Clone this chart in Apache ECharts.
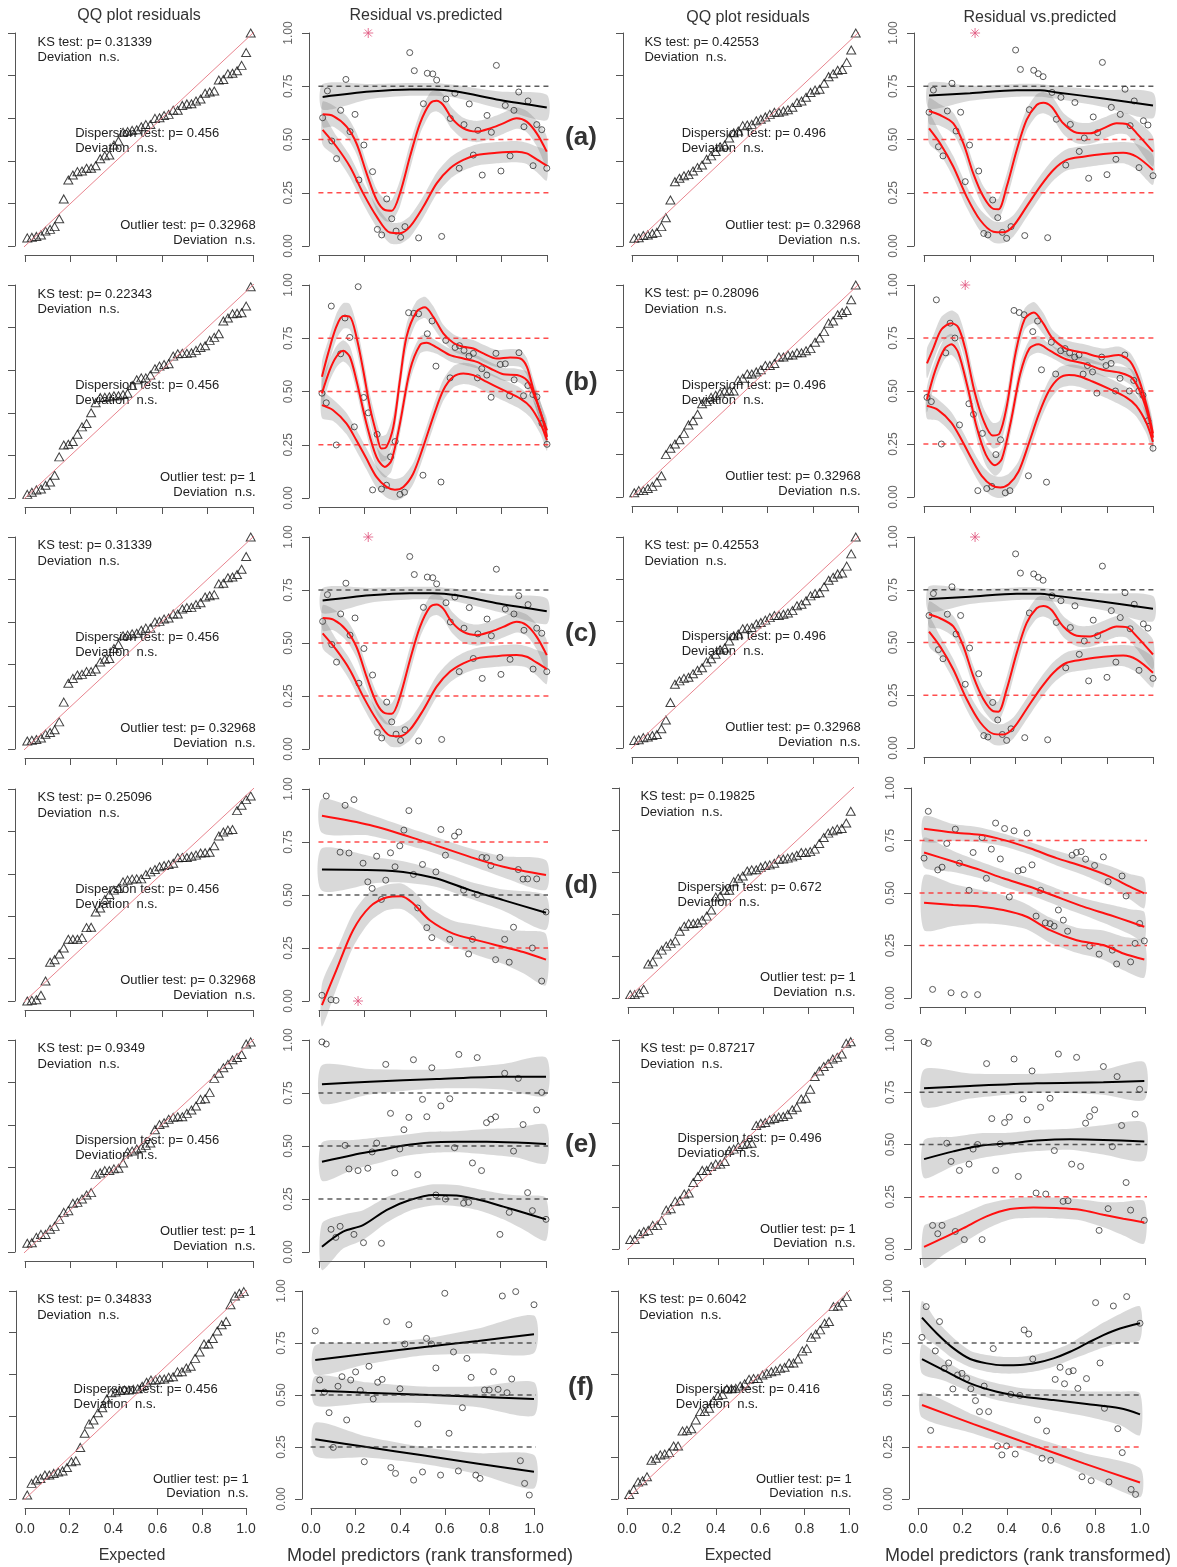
<!DOCTYPE html>
<html>
<head>
<meta charset="utf-8">
<script src="https://cdn.jsdelivr.net/npm/echarts@6/dist/echarts.min.js"></script>
<style>
html, body { margin: 0; padding: 0; background: #fff; }
#chart { width: 1177px; height: 1567px; }
</style>
</head>
<body>
<div id="chart"></div>
<script>
// ---- data: scaled residuals [x = model predictor (rank transformed), residual] ----
var resA1 = [[0.016,0.602],[0.037,0.728],[0.056,0.493],[0.077,0.41],[0.095,0.637],[0.118,0.782],[0.136,0.537],[0.158,0.618],[0.175,0.31],[0.197,0.474],[0.235,0.349],[0.297,0.221],[0.256,0.078],[0.275,0.052],[0.319,0.128],[0.338,0.07],[0.358,0.041],[0.377,0.091],[0.398,0.908],[0.418,0.823],[0.437,0.038],[0.458,0.668],[0.475,0.811],[0.499,0.808],[0.516,0.779],[0.538,0.045],[0.557,0.69],[0.576,0.599],[0.596,0.717],[0.615,0.365],[0.636,0.57],[0.659,0.667],[0.677,0.427],[0.697,0.543],[0.716,0.333],[0.737,0.613],[0.756,0.534],[0.778,0.848],[0.798,0.352],[0.817,0.66],[0.838,0.423],[0.855,0.637],[0.876,0.723],[0.899,0.56],[0.917,0.681],[0.939,0.377],[0.955,0.57],[0.977,0.546],[0.999,0.365]];
var outA1 = [[0.216,1]];
var resA2 = [[0.022,0.628],[0.041,0.732],[0.063,0.466],[0.083,0.423],[0.102,0.634],[0.122,0.764],[0.14,0.54],[0.16,0.628],[0.18,0.302],[0.199,0.474],[0.239,0.352],[0.261,0.059],[0.279,0.052],[0.3,0.216],[0.322,0.133],[0.342,0.064],[0.361,0.036],[0.38,0.091],[0.4,0.92],[0.421,0.829],[0.44,0.049],[0.46,0.64],[0.479,0.825],[0.499,0.809],[0.52,0.795],[0.54,0.039],[0.559,0.721],[0.578,0.595],[0.598,0.698],[0.619,0.38],[0.639,0.571],[0.659,0.674],[0.678,0.444],[0.7,0.507],[0.719,0.318],[0.739,0.606],[0.758,0.532],[0.779,0.862],[0.799,0.335],[0.818,0.651],[0.838,0.407],[0.857,0.618],[0.878,0.736],[0.9,0.565],[0.918,0.681],[0.939,0.368],[0.958,0.588],[0.978,0.568],[1.0,0.33]];
var outA2 = [[0.223,1]];

var resB1 = [[0.013,0.492],[0.032,0.447],[0.054,0.901],[0.076,0.249],[0.095,0.677],[0.114,0.845],[0.135,0.754],[0.155,0.334],[0.172,0.992],[0.196,0.472],[0.216,0.4],[0.235,0.038],[0.255,0.299],[0.274,0.042],[0.296,0.06],[0.314,0.193],[0.334,0.265],[0.355,0.017],[0.375,0.027],[0.393,0.87],[0.416,0.867],[0.437,0.865],[0.456,0.107],[0.475,0.771],[0.496,0.831],[0.513,0.619],[0.535,0.075],[0.556,0.74],[0.575,0.564],[0.597,0.707],[0.616,0.715],[0.636,0.693],[0.658,0.666],[0.677,0.679],[0.695,0.564],[0.714,0.607],[0.736,0.577],[0.755,0.473],[0.776,0.679],[0.795,0.627],[0.817,0.63],[0.836,0.48],[0.856,0.555],[0.877,0.682],[0.897,0.48],[0.916,0.528],[0.938,0.486],[0.956,0.475],[0.978,0.35],[1.0,0.252]];
var outB1 = [];
var resB2 = [[0.013,0.47],[0.032,0.45],[0.054,0.93],[0.076,0.25],[0.095,0.68],[0.114,0.82],[0.135,0.75],[0.155,0.34],[0.196,0.44],[0.216,0.39],[0.235,0.03],[0.255,0.3],[0.274,0.04],[0.296,0.05],[0.314,0.2],[0.334,0.27],[0.355,0.02],[0.375,0.03],[0.393,0.88],[0.416,0.87],[0.437,0.86],[0.456,0.1],[0.475,0.78],[0.496,0.83],[0.513,0.6],[0.535,0.07],[0.556,0.73],[0.575,0.58],[0.597,0.69],[0.616,0.7],[0.636,0.68],[0.658,0.66],[0.677,0.67],[0.695,0.58],[0.714,0.62],[0.736,0.59],[0.755,0.49],[0.776,0.66],[0.795,0.62],[0.817,0.63],[0.836,0.5],[0.856,0.56],[0.877,0.67],[0.897,0.5],[0.916,0.55],[0.938,0.5],[0.956,0.48],[0.978,0.36],[1.0,0.23]];
var outB2 = [[0.18,1]];

var resD1 = [[0.013,0.027],[0.032,0.967],[0.053,0.006],[0.075,0.003],[0.093,0.702],[0.115,0.923],[0.132,0.698],[0.154,0.95],[0.194,0.65],[0.215,0.562],[0.234,0.531],[0.254,0.683],[0.275,0.479],[0.294,0.57],[0.315,0.699],[0.335,0.633],[0.356,0.732],[0.374,0.806],[0.396,0.898],[0.416,0.597],[0.435,0.439],[0.456,0.644],[0.475,0.346],[0.497,0.299],[0.515,0.609],[0.537,0.809],[0.557,0.688],[0.576,0.291],[0.597,0.778],[0.616,0.797],[0.637,0.523],[0.659,0.222],[0.676,0.291],[0.697,0.502],[0.718,0.677],[0.738,0.676],[0.757,0.639],[0.778,0.195],[0.797,0.677],[0.818,0.291],[0.838,0.183],[0.857,0.348],[0.878,0.62],[0.899,0.575],[0.919,0.576],[0.94,0.25],[0.959,0.576],[0.981,0.094],[1.0,0.42]];
var outD1 = [[0.172,0]];
var resD2 = [[0.018,0.666],[0.037,0.889],[0.056,0.041],[0.079,0.61],[0.098,0.623],[0.119,0.736],[0.138,0.025],[0.157,0.804],[0.175,0.642],[0.197,0.016],[0.218,0.513],[0.236,0.693],[0.256,0.016],[0.276,0.764],[0.295,0.57],[0.317,0.709],[0.336,0.833],[0.357,0.662],[0.376,0.807],[0.397,0.481],[0.418,0.796],[0.436,0.605],[0.458,0.611],[0.476,0.785],[0.498,0.634],[0.516,0.39],[0.536,0.513],[0.557,0.358],[0.578,0.354],[0.596,0.342],[0.615,0.419],[0.637,0.371],[0.656,0.318],[0.676,0.68],[0.695,0.693],[0.716,0.697],[0.736,0.661],[0.754,0.247],[0.776,0.631],[0.796,0.209],[0.815,0.672],[0.836,0.554],[0.855,0.228],[0.874,0.162],[0.898,0.581],[0.916,0.486],[0.936,0.172],[0.956,0.26],[0.976,0.355],[0.997,0.272]];
var outD2 = [];

var resE1 = [[0.013,0.991],[0.032,0.981],[0.053,0.107],[0.074,0.069],[0.093,0.121],[0.115,0.503],[0.132,0.392],[0.154,0.083],[0.172,0.384],[0.196,0.044],[0.215,0.395],[0.234,0.472],[0.254,0.514],[0.275,0.041],[0.294,0.885],[0.315,0.654],[0.334,0.373],[0.356,0.486],[0.374,0.577],[0.396,0.635],[0.416,0.907],[0.435,0.365],[0.456,0.72],[0.475,0.638],[0.497,0.869],[0.515,0.269],[0.537,0.689],[0.557,0.25],[0.576,0.723],[0.597,0.492],[0.616,0.932],[0.637,0.23],[0.659,0.234],[0.676,0.42],[0.697,0.917],[0.716,0.384],[0.738,0.61],[0.757,0.626],[0.778,0.638],[0.797,0.083],[0.818,0.843],[0.838,0.187],[0.857,0.476],[0.878,0.819],[0.899,0.601],[0.919,0.28],[0.94,0.195],[0.959,0.67],[0.981,0.753],[1.0,0.154]];
var outE1 = [];
var resE2 = [[0.018,0.992],[0.037,0.984],[0.056,0.113],[0.079,0.073],[0.098,0.113],[0.119,0.506],[0.138,0.419],[0.157,0.084],[0.175,0.376],[0.197,0.045],[0.218,0.406],[0.236,0.478],[0.256,0.5],[0.276,0.045],[0.296,0.887],[0.319,0.624],[0.336,0.376],[0.357,0.503],[0.376,0.605],[0.397,0.631],[0.418,0.909],[0.437,0.347],[0.458,0.718],[0.476,0.618],[0.498,0.852],[0.516,0.268],[0.536,0.678],[0.559,0.263],[0.578,0.721],[0.597,0.471],[0.615,0.933],[0.636,0.228],[0.658,0.231],[0.674,0.406],[0.696,0.917],[0.714,0.395],[0.736,0.602],[0.754,0.634],[0.776,0.666],[0.796,0.089],[0.815,0.873],[0.836,0.193],[0.855,0.49],[0.876,0.825],[0.896,0.591],[0.916,0.318],[0.936,0.186],[0.956,0.645],[0.976,0.764],[0.997,0.137]];
var outE2 = [];

var resF1 = [[0.019,0.808],[0.039,0.572],[0.06,0.514],[0.081,0.415],[0.1,0.248],[0.121,0.542],[0.139,0.588],[0.16,0.38],[0.178,0.572],[0.2,0.611],[0.221,0.522],[0.239,0.179],[0.26,0.638],[0.279,0.481],[0.299,0.561],[0.319,0.575],[0.339,0.853],[0.358,0.151],[0.379,0.123],[0.399,0.53],[0.421,0.745],[0.439,0.838],[0.46,0.091],[0.479,0.361],[0.5,0.13],[0.518,0.772],[0.54,0.745],[0.56,0.63],[0.581,0.115],[0.6,0.989],[0.619,0.316],[0.639,0.707],[0.661,0.135],[0.679,0.439],[0.699,0.676],[0.718,0.585],[0.739,0.115],[0.758,0.099],[0.778,0.524],[0.799,0.524],[0.818,0.612],[0.839,0.527],[0.858,0.976],[0.879,0.511],[0.9,0.577],[0.918,0.997],[0.939,0.184],[0.958,0.075],[0.979,0.019],[1.0,0.934]];
var outF1 = [];
var resF2 = [[0.018,0.777],[0.037,0.925],[0.057,0.33],[0.078,0.712],[0.097,0.853],[0.118,0.628],[0.138,0.654],[0.157,0.529],[0.178,0.596],[0.198,0.604],[0.219,0.579],[0.238,0.53],[0.259,0.473],[0.277,0.42],[0.298,0.543],[0.318,0.42],[0.339,0.723],[0.358,0.255],[0.378,0.212],[0.399,0.255],[0.418,0.503],[0.438,0.216],[0.459,0.498],[0.478,0.813],[0.499,0.793],[0.517,0.673],[0.538,0.38],[0.559,0.196],[0.579,0.327],[0.598,0.186],[0.618,0.575],[0.64,0.633],[0.66,0.554],[0.679,0.612],[0.699,0.617],[0.72,0.532],[0.739,0.107],[0.759,0.579],[0.78,0.088],[0.8,0.944],[0.82,0.654],[0.84,0.436],[0.86,0.082],[0.88,0.928],[0.9,0.338],[0.92,0.223],[0.94,0.973],[0.96,0.046],[0.98,0.022],[1.0,0.845]];
var outF2 = [];

// ---- quantile regression curves [x, fitted, band half width] ----
var qA1_75 = [[0.016,0.70,0.06],[0.224,0.725,0.035],[0.399,0.735,0.03],[0.501,0.735,0.03],[0.604,0.725,0.03],[0.794,0.685,0.04],[0.999,0.65,0.06]];
var qA1_50 = [[0.016,0.618,0.06],[0.063,0.61,0.05],[0.121,0.56,0.05],[0.165,0.48,0.05],[0.209,0.34,0.05],[0.253,0.216,0.05],[0.289,0.169,0.05],[0.319,0.166,0.05],[0.355,0.247,0.06],[0.399,0.42,0.06],[0.443,0.576,0.05],[0.487,0.67,0.05],[0.516,0.682,0.05],[0.545,0.662,0.05],[0.582,0.6,0.05],[0.633,0.552,0.05],[0.692,0.537,0.05],[0.75,0.552,0.05],[0.808,0.576,0.05],[0.867,0.6,0.05],[0.911,0.584,0.05],[0.955,0.529,0.06],[0.999,0.443,0.07]];
var qA1_25 = [[0.016,0.545,0.07],[0.077,0.466,0.05],[0.136,0.372,0.05],[0.194,0.247,0.05],[0.253,0.138,0.05],[0.311,0.063,0.05],[0.355,0.06,0.05],[0.399,0.091,0.05],[0.458,0.185,0.05],[0.516,0.294,0.05],[0.575,0.365,0.05],[0.633,0.404,0.05],[0.692,0.427,0.05],[0.779,0.438,0.05],[0.867,0.443,0.05],[0.911,0.435,0.05],[0.955,0.407,0.06],[0.999,0.377,0.07]];
var qA2_75 = [[0.022,0.706,0.06],[0.201,0.717,0.035],[0.405,0.731,0.03],[0.507,0.731,0.03],[0.579,0.721,0.03],[0.783,0.693,0.04],[1.0,0.66,0.06]];
var qA2_50 = [[0.022,0.634,0.06],[0.07,0.615,0.05],[0.128,0.576,0.05],[0.172,0.482,0.05],[0.215,0.341,0.05],[0.259,0.232,0.05],[0.303,0.174,0.05],[0.325,0.172,0.05],[0.361,0.278,0.06],[0.405,0.451,0.06],[0.448,0.592,0.05],[0.492,0.662,0.05],[0.521,0.673,0.05],[0.557,0.654,0.05],[0.608,0.576,0.05],[0.667,0.532,0.05],[0.725,0.529,0.05],[0.783,0.552,0.05],[0.841,0.576,0.05],[0.885,0.573,0.05],[0.929,0.529,0.06],[1.0,0.443,0.07]];
var qA2_25 = [[0.022,0.552,0.07],[0.07,0.482,0.05],[0.128,0.372,0.05],[0.186,0.232,0.05],[0.245,0.122,0.05],[0.303,0.067,0.05],[0.346,0.064,0.05],[0.39,0.094,0.05],[0.448,0.185,0.05],[0.507,0.279,0.05],[0.565,0.357,0.05],[0.623,0.404,0.05],[0.696,0.419,0.05],[0.783,0.432,0.05],[0.87,0.438,0.05],[0.929,0.419,0.06],[1.0,0.357,0.07]];

var qB1_75 = [[0.013,0.569,0.07],[0.04,0.679,0.06],[0.076,0.804,0.06],[0.106,0.854,0.06],[0.135,0.851,0.06],[0.164,0.757,0.06],[0.194,0.6,0.06],[0.223,0.428,0.06],[0.252,0.303,0.06],[0.274,0.232,0.06],[0.296,0.24,0.06],[0.326,0.334,0.06],[0.355,0.553,0.06],[0.384,0.757,0.06],[0.428,0.875,0.05],[0.465,0.895,0.05],[0.501,0.851,0.05],[0.545,0.773,0.04],[0.589,0.729,0.04],[0.633,0.71,0.04],[0.677,0.702,0.04],[0.721,0.679,0.04],[0.78,0.655,0.04],[0.839,0.66,0.04],[0.883,0.655,0.04],[0.912,0.616,0.04],[0.941,0.506,0.05],[0.978,0.381,0.05],[1.0,0.318,0.05]];
var qB1_50 = [[0.013,0.491,0.06],[0.047,0.6,0.05],[0.076,0.663,0.05],[0.106,0.691,0.05],[0.135,0.663,0.05],[0.164,0.553,0.05],[0.208,0.35,0.05],[0.252,0.193,0.05],[0.289,0.146,0.05],[0.318,0.177,0.05],[0.355,0.35,0.05],[0.399,0.6,0.05],[0.443,0.718,0.04],[0.472,0.729,0.04],[0.516,0.707,0.03],[0.575,0.671,0.03],[0.633,0.655,0.03],[0.692,0.639,0.03],[0.751,0.608,0.03],[0.809,0.581,0.03],[0.868,0.577,0.03],[0.912,0.553,0.04],[0.941,0.491,0.04],[0.978,0.381,0.05],[1.0,0.287,0.05]];
var qB1_25 = [[0.013,0.436,0.06],[0.062,0.412,0.05],[0.12,0.35,0.05],[0.164,0.271,0.05],[0.208,0.185,0.05],[0.252,0.099,0.05],[0.296,0.052,0.05],[0.333,0.039,0.05],[0.37,0.052,0.05],[0.413,0.114,0.05],[0.457,0.24,0.05],[0.501,0.381,0.05],[0.545,0.506,0.05],[0.589,0.569,0.05],[0.633,0.585,0.05],[0.677,0.577,0.05],[0.736,0.545,0.05],[0.809,0.506,0.05],[0.883,0.467,0.05],[0.927,0.428,0.05],[0.971,0.35,0.05],[1.0,0.271,0.05]];
var qB2_75 = [[0.013,0.63,0.07],[0.04,0.7,0.06],[0.076,0.79,0.06],[0.12,0.82,0.06],[0.15,0.8,0.06],[0.18,0.7,0.06],[0.22,0.5,0.06],[0.26,0.36,0.06],[0.3,0.29,0.06],[0.33,0.3,0.06],[0.36,0.42,0.06],[0.4,0.68,0.06],[0.44,0.84,0.05],[0.48,0.87,0.05],[0.52,0.82,0.05],[0.56,0.75,0.04],[0.62,0.7,0.04],[0.7,0.68,0.04],[0.78,0.66,0.04],[0.85,0.67,0.04],[0.9,0.64,0.04],[0.94,0.55,0.05],[0.975,0.42,0.05],[1.0,0.3,0.05]];
var qB2_50 = [[0.013,0.46,0.06],[0.05,0.6,0.05],[0.09,0.7,0.05],[0.12,0.72,0.05],[0.15,0.68,0.05],[0.19,0.52,0.05],[0.23,0.33,0.05],[0.27,0.2,0.05],[0.31,0.15,0.05],[0.34,0.18,0.05],[0.38,0.36,0.05],[0.42,0.58,0.05],[0.46,0.7,0.04],[0.5,0.72,0.04],[0.55,0.69,0.03],[0.62,0.65,0.03],[0.7,0.63,0.03],[0.78,0.6,0.03],[0.86,0.585,0.03],[0.91,0.56,0.04],[0.95,0.48,0.04],[0.98,0.38,0.05],[1.0,0.28,0.05]];
var qB2_25 = [[0.013,0.43,0.06],[0.062,0.41,0.05],[0.12,0.35,0.05],[0.164,0.27,0.05],[0.208,0.18,0.05],[0.252,0.1,0.05],[0.296,0.055,0.05],[0.333,0.045,0.05],[0.37,0.06,0.05],[0.413,0.12,0.05],[0.457,0.25,0.05],[0.501,0.39,0.05],[0.545,0.5,0.05],[0.589,0.56,0.05],[0.633,0.575,0.05],[0.677,0.57,0.05],[0.736,0.545,0.05],[0.809,0.51,0.05],[0.883,0.47,0.05],[0.927,0.43,0.05],[0.971,0.35,0.05],[1.0,0.26,0.05]];

var qD1_75 = [[0.013,0.874,0.08],[0.224,0.83,0.05],[0.444,0.759,0.04],[0.665,0.68,0.04],[0.812,0.633,0.05],[1.0,0.594,0.07]];
var qD1_50 = [[0.013,0.62,0.1],[0.253,0.617,0.06],[0.371,0.609,0.05],[0.518,0.578,0.04],[0.665,0.523,0.04],[0.812,0.476,0.05],[1.0,0.416,0.08]];
var qD1_25 = [[0.013,-0.02,0.1],[0.076,0.145,0.09],[0.15,0.334,0.08],[0.224,0.444,0.07],[0.297,0.488,0.06],[0.363,0.494,0.06],[0.415,0.46,0.06],[0.488,0.381,0.06],[0.591,0.318,0.06],[0.694,0.287,0.07],[0.812,0.255,0.08],[0.9,0.231,0.1],[1.0,0.195,0.12]];
var qD2_75 = [[0.018,0.806,0.06],[0.148,0.788,0.04],[0.267,0.777,0.035],[0.37,0.753,0.03],[0.489,0.713,0.03],[0.607,0.666,0.035],[0.726,0.626,0.04],[0.844,0.578,0.05],[0.933,0.53,0.06],[0.997,0.498,0.07]];
var qD2_50 = [[0.018,0.693,0.07],[0.148,0.65,0.05],[0.267,0.61,0.04],[0.37,0.57,0.04],[0.489,0.53,0.04],[0.607,0.482,0.04],[0.726,0.435,0.04],[0.844,0.395,0.05],[0.933,0.363,0.06],[0.997,0.339,0.07]];
var qD2_25 = [[0.018,0.454,0.13],[0.148,0.443,0.1],[0.267,0.435,0.08],[0.37,0.419,0.07],[0.474,0.387,0.06],[0.578,0.323,0.06],[0.696,0.275,0.06],[0.815,0.252,0.07],[0.904,0.212,0.08],[0.997,0.183,0.085]];

var qE1_75 = [[0.013,0.791,0.09],[0.224,0.803,0.06],[0.518,0.816,0.045],[0.812,0.827,0.06],[1.0,0.827,0.09]];
var qE1_50 = [[0.013,0.426,0.09],[0.15,0.458,0.07],[0.268,0.481,0.06],[0.371,0.502,0.05],[0.488,0.517,0.05],[0.606,0.52,0.05],[0.738,0.52,0.06],[0.871,0.516,0.07],[1.0,0.509,0.09]];
var qE1_25 = [[0.013,0.025,0.11],[0.106,0.096,0.08],[0.194,0.127,0.07],[0.297,0.198,0.06],[0.4,0.245,0.05],[0.503,0.269,0.05],[0.606,0.266,0.05],[0.709,0.245,0.05],[0.812,0.214,0.06],[0.9,0.186,0.08],[1.0,0.154,0.1]];
var qE2_75 = [[0.018,0.769,0.09],[0.222,0.78,0.06],[0.519,0.793,0.045],[0.815,0.798,0.06],[0.997,0.804,0.09]];
var qE2_50 = [[0.018,0.43,0.09],[0.148,0.467,0.07],[0.267,0.494,0.06],[0.4,0.506,0.05],[0.519,0.519,0.05],[0.667,0.525,0.05],[0.815,0.522,0.07],[0.997,0.514,0.09]];
var qE2_25 = [[0.018,0.01,0.1],[0.104,0.053,0.08],[0.193,0.1,0.07],[0.296,0.156,0.06],[0.4,0.191,0.05],[0.504,0.199,0.05],[0.607,0.196,0.05],[0.711,0.188,0.05],[0.815,0.164,0.06],[0.904,0.145,0.08],[0.997,0.127,0.1]];

var qF1_75 = [[0.019,0.668,0.07],[0.25,0.698,0.05],[0.5,0.73,0.04],[0.75,0.76,0.06],[1.0,0.792,0.09]];
var qF1_50 = [[0.019,0.521,0.07],[0.25,0.511,0.05],[0.5,0.501,0.04],[0.75,0.491,0.05],[1.0,0.481,0.08]];
var qF1_25 = [[0.019,0.287,0.08],[0.25,0.25,0.05],[0.5,0.21,0.04],[0.75,0.17,0.05],[1.0,0.131,0.08]];
var qF2_75 = [[0.018,0.872,0.08],[0.085,0.796,0.06],[0.16,0.724,0.05],[0.235,0.673,0.04],[0.31,0.652,0.04],[0.385,0.643,0.04],[0.46,0.644,0.04],[0.535,0.655,0.04],[0.61,0.676,0.04],[0.685,0.708,0.04],[0.76,0.748,0.05],[0.835,0.788,0.06],[0.91,0.82,0.07],[1.0,0.845,0.08]];
var qF2_50 = [[0.018,0.673,0.07],[0.115,0.62,0.05],[0.235,0.556,0.04],[0.355,0.516,0.04],[0.475,0.492,0.04],[0.61,0.476,0.05],[0.76,0.457,0.06],[0.91,0.436,0.08],[1.0,0.407,0.1]];
var qF2_25 = [[0.018,0.452,0.06],[0.25,0.36,0.045],[0.5,0.265,0.04],[0.75,0.17,0.05],[1.0,0.079,0.07]];

// ---- test statistics printed in the QQ panels ----
var ksP1 = ['0.31339', '0.22343', '0.31339', '0.25096', '0.9349', '0.34833'];
var ksP2 = ['0.42553', '0.28096', '0.42553', '0.19825', '0.87217', '0.6042'];
var dispP1 = ['0.456', '0.456', '0.456', '0.456', '0.456', '0.456'];
var dispP2 = ['0.496', '0.496', '0.496', '0.672', '0.496', '0.416'];
var outP1 = ['0.32968', '1', '0.32968', '0.32968', '1', '1'];
var outP2 = ['0.32968', '0.32968', '0.32968', '1', '1', '1'];
var rowLabels = ['(a)', '(b)', '(c)', '(d)', '(e)', '(f)'];
var quantLevels = [0.25, 0.5, 0.75];
var qqRef = [-0.042, 1.042];

// ---- layout (pixels) ----
var rowTopL = [33, 285, 537, 789, 1040, 1291];
var rowTopR = [33, 285, 537, 788, 1040, 1291];
var rowHL = [213, 213, 212, 212, 212, 208];
var rowHR = [213, 212, 211, 210, 209, 208];
var colX = [
  [25, 228, 319, 228, 632, 226, 924, 229],
  [25, 228, 319, 228, 632, 226, 924, 229],
  [25, 228, 319, 228, 632, 226, 924, 229],
  [25, 228, 319, 227, 628, 225, 920, 225],
  [25, 228, 319, 227, 628, 225, 920, 225],
  [25, 221, 311, 223, 627, 222, 918, 222]
];
var labelY = [138, 383, 634, 886, 1145, 1388];

var RED = '#ff1010', BLACK = '#000000';
var DASH_RED = '#ff2020', DASH_BLACK = '#333333';
var BAND = 'rgba(110,110,110,0.26)';
var FONT = '"Liberation Sans", Arial, sans-serif';

var grids = [], xAxes = [], yAxes = [], series = [], graphics = [];

function cell(r, c) {
  var left = c < 2;
  return { l: colX[r][c * 2], w: colX[r][c * 2 + 1],
           t: left ? rowTopL[r] : rowTopR[r], h: left ? rowHL[r] : rowHR[r] };
}

function text(str, x, y, font, align, color) {
  graphics.push({ type: 'text', silent: true,
    style: { text: str, x: x, y: y, font: font, fill: color || '#222',
             textAlign: align, textVerticalAlign: 'middle', align: align, verticalAlign: 'middle' } });
}

function baseAxes(g, r, yInterval, yLabels) {
  var gi = grids.length;
  grids.push({ left: g.l, top: g.t, width: g.w, height: g.h, containLabel: false, outerBoundsMode: 'none' });
  var xi = xAxes.length;
  xAxes.push({ gridIndex: gi, type: 'value', min: 0, max: 1, interval: 0.2, position: 'bottom',
    offset: Math.round(g.h * 0.042),
    axisLine: { show: true, onZero: false, lineStyle: { color: '#555', width: 1 } },
    axisTick: { show: true, length: 7, lineStyle: { color: '#555' } },
    axisLabel: { show: r === 5, margin: 14, fontSize: 14, color: '#333', fontFamily: FONT,
                 formatter: function (v) { return v.toFixed(1); } },
    splitLine: { show: false } });
  var yi = yAxes.length;
  yAxes.push({ gridIndex: gi, type: 'value', min: 0, max: 1, interval: yInterval, position: 'left',
    offset: Math.round(g.w * 0.042),
    axisLine: { show: true, onZero: false, lineStyle: { color: '#555', width: 1 } },
    axisTick: { show: true, length: 7, lineStyle: { color: '#555' } },
    axisLabel: { show: yLabels, rotate: 90, margin: 14, fontSize: 12, color: '#666', fontFamily: FONT,
                 formatter: function (v) { return v.toFixed(2); } },
    splitLine: { show: false } });
  return { gi: gi, xi: xi, yi: yi };
}

function addQQ(r, c, resid, outl, ks, disp, outp) {
  var g = cell(r, c);
  var ax = baseAxes(g, r, 0.2, false);
  var vals = resid.concat(outl).map(function (p) { return p[1]; }).sort(function (a, b) { return a - b; });
  var ci = xAxes.length;
  xAxes.push({ gridIndex: ax.gi, type: 'category', boundaryGap: true, show: false,
               data: vals.map(function (v, k) { return String(k + 1); }) });
  series.push({ type: 'line', xAxisIndex: ax.xi, yAxisIndex: ax.yi, clip: false, silent: true,
    data: qqRef.map(function (v) { return [v, v]; }), symbol: 'none',
    lineStyle: { color: '#e8848e', width: 1 } });
  series.push({ type: 'scatter', xAxisIndex: ci, yAxisIndex: ax.yi,
    data: vals.map(function (v, k) { return [k, v]; }),
    symbol: 'triangle', symbolSize: [9, 8],
    itemStyle: { color: 'rgba(0,0,0,0)', borderColor: '#111', borderWidth: 1 } });
  var px = function (v) { return g.l + v * g.w; };
  var py = function (v) { return g.t + (1 - v) * g.h; };
  var f = '13px ' + FONT;
  text('KS test: p= ' + ks, px(0.055), py(0.958), f, 'left');
  text('Deviation  n.s.', px(0.055), py(0.883), f, 'left');
  text('Dispersion test: p= ' + disp, px(0.22), py(0.527), f, 'left');
  text('Deviation  n.s.', px(0.22), py(0.457), f, 'left');
  text('Outlier test: p= ' + outp, px(1.012), py(0.096), f, 'right');
  text('Deviation  n.s.', px(1.012), py(0.027), f, 'right');
}

function bandSeries(ax, curve) {
  return { type: 'custom', xAxisIndex: ax.xi, yAxisIndex: ax.yi, data: curve, silent: true, z: 1,
    renderItem: function (params, api) {
      if (params.dataIndex !== 0) return null;
      var up = curve.map(function (p) { return api.coord([p[0], p[1] + p[2]]); });
      var lo = curve.map(function (p) { return api.coord([p[0], p[1] - p[2]]); }).reverse();
      return { type: 'polygon', shape: { points: up.concat(lo), smooth: 0.25 }, style: { fill: BAND } };
    } };
}

// curves: [[q25, color], [q50, color], [q75, color]], dash: colors of the 0.25/0.5/0.75 reference lines
function addRes(r, c, pts, outl, curves, dash) {
  var g = cell(r, c);
  var ax = baseAxes(g, r, 0.25, true);
  curves.forEach(function (cv) { series.push(bandSeries(ax, cv[0])); });
  series.push({ type: 'scatter', xAxisIndex: ax.xi, yAxisIndex: ax.yi, z: 3, data: pts,
    symbol: 'circle', symbolSize: 6,
    itemStyle: { color: 'rgba(0,0,0,0)', borderColor: '#333', borderWidth: 1 } });
  if (outl.length) {
    series.push({ type: 'scatter', xAxisIndex: ax.xi, yAxisIndex: ax.yi, z: 3, data: outl,
      symbol: 'path://M5,0L5,10M0,5L10,5M1.5,1.5L8.5,8.5M1.5,8.5L8.5,1.5', symbolSize: 10,
      itemStyle: { color: 'rgba(0,0,0,0)', borderColor: '#e0507a', borderWidth: 1 } });
  }
  curves.forEach(function (cv) {
    series.push({ type: 'line', xAxisIndex: ax.xi, yAxisIndex: ax.yi, clip: false, silent: true, z: 4,
      data: cv[0].map(function (p) { return [p[0], p[1]]; }), smooth: 0.3, symbol: 'none',
      lineStyle: { color: cv[1] === 'r' ? RED : BLACK, width: 2 } });
  });
  quantLevels.forEach(function (q, k) {
    series.push({ type: 'line', xAxisIndex: ax.xi, yAxisIndex: ax.yi, clip: false, silent: true, z: 5,
      data: qqRef.map(function (x) { return [x, q]; }), symbol: 'none',
      lineStyle: { color: dash[k] === 'r' ? DASH_RED : DASH_BLACK, width: 1.5, type: [5, 4], opacity: 0.8 } });
  });
}

var rowsDef = [
  { r1: resA1, o1: outA1, c1: [[qA1_25, 'r'], [qA1_50, 'r'], [qA1_75, 'k']], d1: ['r', 'r', 'k'],
    r2: resA2, o2: outA2, c2: [[qA2_25, 'r'], [qA2_50, 'r'], [qA2_75, 'k']], d2: ['r', 'r', 'k'] },
  { r1: resB1, o1: outB1, c1: [[qB1_25, 'r'], [qB1_50, 'r'], [qB1_75, 'r']], d1: ['r', 'r', 'r'],
    r2: resB2, o2: outB2, c2: [[qB2_25, 'r'], [qB2_50, 'r'], [qB2_75, 'r']], d2: ['r', 'r', 'r'] },
  { r1: resA1, o1: outA1, c1: [[qA1_25, 'r'], [qA1_50, 'r'], [qA1_75, 'k']], d1: ['r', 'r', 'k'],
    r2: resA2, o2: outA2, c2: [[qA2_25, 'r'], [qA2_50, 'r'], [qA2_75, 'k']], d2: ['r', 'r', 'k'] },
  { r1: resD1, o1: outD1, c1: [[qD1_25, 'r'], [qD1_50, 'k'], [qD1_75, 'r']], d1: ['r', 'k', 'r'],
    r2: resD2, o2: outD2, c2: [[qD2_25, 'r'], [qD2_50, 'r'], [qD2_75, 'r']], d2: ['r', 'r', 'r'] },
  { r1: resE1, o1: outE1, c1: [[qE1_25, 'k'], [qE1_50, 'k'], [qE1_75, 'k']], d1: ['k', 'k', 'k'],
    r2: resE2, o2: outE2, c2: [[qE2_25, 'r'], [qE2_50, 'k'], [qE2_75, 'k']], d2: ['r', 'k', 'k'] },
  { r1: resF1, o1: outF1, c1: [[qF1_25, 'k'], [qF1_50, 'k'], [qF1_75, 'k']], d1: ['k', 'k', 'k'],
    r2: resF2, o2: outF2, c2: [[qF2_25, 'r'], [qF2_50, 'k'], [qF2_75, 'k']], d2: ['r', 'k', 'k'] }
];

rowsDef.forEach(function (d, r) {
  addQQ(r, 0, d.r1, d.o1, ksP1[r], dispP1[r], outP1[r]);
  addRes(r, 1, d.r1, d.o1, d.c1, d.d1);
  addQQ(r, 2, d.r2, d.o2, ksP2[r], dispP2[r], outP2[r]);
  addRes(r, 3, d.r2, d.o2, d.c2, d.d2);
  text(rowLabels[r], 581, labelY[r], 'bold 26px ' + FONT, 'center', '#333');
});

var tf = '16px ' + FONT;
text('QQ plot residuals', 139, 16, tf, 'center', '#333');
text('Residual vs.predicted', 426, 16, tf, 'center', '#333');
text('QQ plot residuals', 748, 18, tf, 'center', '#333');
text('Residual vs.predicted', 1040, 18, tf, 'center', '#333');
text('Expected', 132, 1556, '16px ' + FONT, 'center', '#333');
text('Model predictors (rank transformed)', 430, 1556, '18px ' + FONT, 'center', '#333');
text('Expected', 738, 1556, '16px ' + FONT, 'center', '#333');
text('Model predictors (rank transformed)', 1028, 1556, '18px ' + FONT, 'center', '#333');

var chart = echarts.init(document.getElementById('chart'), null, { renderer: 'canvas' });
chart.setOption({
  animation: false,
  backgroundColor: '#ffffff',
  grid: grids,
  xAxis: xAxes,
  yAxis: yAxes,
  series: series,
  graphic: { elements: graphics }
});
</script>
</body>
</html>
